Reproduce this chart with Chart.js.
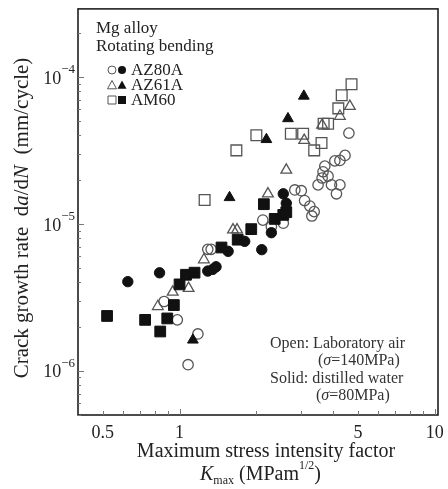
<!DOCTYPE html>
<html lang="en">
<head>
    <meta charset="UTF-8">
    <title>Crack growth rate vs Kmax</title>
    <script src="https://cdn.jsdelivr.net/npm/chart.js"></script>
    <style>
        html, body { margin: 0; padding: 0; background: #fff; }
        #chart { display: block; }
    </style>
</head>
<body>
    <canvas id="chart" width="448" height="489"></canvas>

    <script>
        // Kmax (MPa m^1/2) and da/dN (mm/cycle)
        const az80aWaterK    = [0.627, 0.835, 1.29, 1.35, 1.39, 1.55, 1.80, 2.10, 2.29, 2.55, 2.62];
        const az80aWaterRate = [4.04e-6, 4.64e-6, 4.77e-6, 4.9e-6, 5.1e-6, 6.5e-6, 7.6e-6, 6.67e-6, 8.7e-6, 1.6e-5, 1.38e-5];

        const az61aWaterK    = [1.128, 1.57, 2.19, 2.66, 3.07];
        const az61aWaterRate = [1.62e-6, 1.51e-5, 3.75e-5, 5.2e-5, 7.4e-5];

        const am60WaterK    = [0.52, 0.733, 0.84, 0.895, 0.95, 1.0, 1.06, 1.145, 1.46, 1.69, 1.91, 2.14, 2.36, 2.55, 2.62];
        const am60WaterRate = [2.36e-6, 2.22e-6, 1.85e-6, 2.27e-6, 2.8e-6, 3.87e-6, 4.5e-6, 4.65e-6, 6.9e-6, 7.8e-6, 9.2e-6, 1.36e-5, 1.08e-5, 1.15e-5, 1.2e-5];

        const az80aAirK    = [0.87, 0.98, 1.18, 1.08, 1.29, 1.33, 2.12, 2.29, 2.55, 2.83, 3.0, 3.09, 3.24, 3.37, 3.30, 3.49, 3.62, 3.82, 3.94, 4.25, 4.12, 3.65, 3.71, 4.06, 4.25, 4.45, 4.61];
        const az80aAirRate = [2.96e-6, 2.22e-6, 1.78e-6, 1.1e-6, 6.7e-6, 6.7e-6, 1.06e-5, 9.6e-6, 1.01e-5, 1.7e-5, 1.68e-5, 1.44e-5, 1.32e-5, 1.21e-5, 1.13e-5, 1.84e-5, 2.05e-5, 2.11e-5, 1.84e-5, 1.84e-5, 1.6e-5, 2.26e-5, 2.47e-5, 2.68e-5, 2.7e-5, 2.92e-5, 4.14e-5];

        const az61aAirK    = [0.822, 0.94, 1.085, 1.246, 1.62, 1.68, 2.22, 2.62, 3.08, 3.62, 4.25, 4.65];
        const az61aAirRate = [2.74e-6, 3.43e-6, 3.64e-6, 5.7e-6, 9.1e-6, 9.1e-6, 1.6e-5, 2.32e-5, 3.7e-5, 4.7e-5, 5.4e-5, 6.3e-5];

        const am60AirK    = [1.254, 1.67, 2.0, 2.73, 3.05, 3.37, 3.6, 3.67, 3.82, 4.19, 4.32, 4.72];
        const am60AirRate = [1.45e-5, 3.16e-5, 4.0e-5, 4.1e-5, 4.1e-5, 3.16e-5, 3.55e-5, 4.8e-5, 4.8e-5, 6.1e-5, 7.5e-5, 8.9e-5];

        // axis ticks
        const xLabelValues = [0.5, 1, 5, 10];
        const xMinorTicks = [0.5, 0.6, 0.7, 0.8, 0.9, 2, 3, 4, 5, 6, 7, 8, 9];
        const xMajorTicks = [1, 10];
        const yDecades = [-6, -5, -4];

        const SERIF = '"Liberation Serif", "Times New Roman", serif';
        const OPEN_COLOR = '#555';
        const SOLID_COLOR = '#111';

        function pairs(xs, ys) {
            return xs.map((x, i) => ({ x: x, y: ys[i] }));
        }

        function series(label, xs, ys, style, filled) {
            const isRect = style === 'rect';
            const isTri = style === 'triangle';
            return {
                label: label,
                data: pairs(xs, ys),
                pointStyle: style,
                pointRadius: isRect ? 7.6 : (isTri ? 6.2 : 5.2),
                pointBorderWidth: filled ? 1 : 1.3,
                pointBorderColor: filled ? SOLID_COLOR : OPEN_COLOR,
                pointBackgroundColor: filled ? SOLID_COLOR : 'rgba(255,255,255,0)',
                showLine: false
            };
        }

        // helper: draw a run of text pieces with different fonts/offsets
        function drawRuns(ctx, runs, x, y) {
            let cx = x;
            runs.forEach(r => {
                ctx.font = r.font;
                ctx.fillText(r.text, cx, y + (r.dy || 0));
                cx += ctx.measureText(r.text).width;
            });
            return cx;
        }

        function runsWidth(ctx, runs) {
            let w = 0;
            runs.forEach(r => { ctx.font = r.font; w += ctx.measureText(r.text).width; });
            return w;
        }

        function legendMark(ctx, style, filled, x, y) {
            ctx.save();
            ctx.lineWidth = 1;
            ctx.strokeStyle = filled ? SOLID_COLOR : OPEN_COLOR;
            ctx.fillStyle = SOLID_COLOR;
            ctx.beginPath();
            if (style === 'circle') {
                ctx.arc(x, y, 4, 0, Math.PI * 2);
            } else if (style === 'triangle') {
                ctx.moveTo(x, y - 4.5);
                ctx.lineTo(x + 4.5, y + 3.8);
                ctx.lineTo(x - 4.5, y + 3.8);
                ctx.closePath();
            } else {
                ctx.rect(x - 4, y - 4, 8, 8);
            }
            if (filled) ctx.fill(); else ctx.stroke();
            ctx.restore();
        }

        const decorations = {
            id: 'decorations',
            afterDraw(chart) {
                const ctx = chart.ctx;
                const area = chart.chartArea;
                const xs = chart.scales.x;
                const ys = chart.scales.y;
                ctx.save();

                // frame
                ctx.strokeStyle = '#111';
                ctx.lineWidth = 1.5;
                ctx.strokeRect(area.left, area.top, area.right - area.left, area.bottom - area.top);

                // inward ticks
                ctx.strokeStyle = '#777';
                ctx.lineWidth = 1;
                xMinorTicks.forEach(v => {
                    const px = Math.round(xs.getPixelForValue(v)) + 0.5;
                    ctx.beginPath();
                    ctx.moveTo(px, area.bottom);
                    ctx.lineTo(px, area.bottom - 4);
                    ctx.stroke();
                });
                xMajorTicks.forEach(v => {
                    const px = Math.round(xs.getPixelForValue(v)) + 0.5;
                    ctx.beginPath();
                    ctx.moveTo(px, area.bottom);
                    ctx.lineTo(px, area.bottom - 6);
                    ctx.stroke();
                });
                for (let e = -7; e <= -4; e++) {
                    for (let m = 1; m <= 9; m++) {
                        const v = m * Math.pow(10, e);
                        if (v < ys.min || v > ys.max) continue;
                        const py = Math.round(ys.getPixelForValue(v)) + 0.5;
                        ctx.beginPath();
                        ctx.moveTo(area.left, py);
                        ctx.lineTo(area.left + (m === 1 ? 6 : 3), py);
                        ctx.stroke();
                    }
                }

                ctx.fillStyle = '#222';

                // x tick labels
                ctx.font = '18px ' + SERIF;
                ctx.textAlign = 'center';
                ctx.textBaseline = 'middle';
                xLabelValues.forEach(v => {
                    ctx.fillText(String(v), xs.getPixelForValue(v), area.bottom + 18);
                });

                // y tick labels 10^-n
                ctx.textAlign = 'left';
                yDecades.forEach(e => {
                    const py = ys.getPixelForValue(Math.pow(10, e));
                    const runs = [
                        { text: '10', font: '18px ' + SERIF, dy: 2 },
                        { text: '\u2212' + (-e), font: '13px ' + SERIF, dy: -7 }
                    ];
                    const w = runsWidth(ctx, runs);
                    drawRuns(ctx, runs, area.left - 3 - w, py);
                });

                // x title
                ctx.textAlign = 'center';
                ctx.font = '20px ' + SERIF;
                ctx.fillText('Maximum stress intensity factor', 266, 452);
                ctx.textAlign = 'left';
                const kRuns = [
                    { text: 'K', font: 'italic 20px ' + SERIF, dy: 0 },
                    { text: 'max', font: '12px ' + SERIF, dy: 6 },
                    { text: ' (MPam', font: '20px ' + SERIF, dy: 0 },
                    { text: '1/2', font: '12px ' + SERIF, dy: -9 },
                    { text: ')', font: '20px ' + SERIF, dy: 0 }
                ];
                drawRuns(ctx, kRuns, 200, 475);

                // y title (rotated)
                const yRuns = [
                    { text: 'Crack growth rate  d', font: '21px ' + SERIF },
                    { text: 'a', font: 'italic 21px ' + SERIF },
                    { text: '/d', font: '21px ' + SERIF },
                    { text: 'N', font: 'italic 21px ' + SERIF },
                    { text: '  (mm/cycle)', font: '21px ' + SERIF }
                ];
                ctx.save();
                ctx.translate(22, 218);
                ctx.rotate(-Math.PI / 2);
                const yw = runsWidth(ctx, yRuns);
                drawRuns(ctx, yRuns, -yw / 2, 0);
                ctx.restore();

                // legend block
                ctx.fillStyle = '#222';
                ctx.textBaseline = 'middle';
                ctx.font = '17px ' + SERIF;
                ctx.fillText('Mg alloy', 96, 29);
                ctx.fillText('Rotating bending', 96, 47);
                const rows = [
                    { style: 'circle', name: 'AZ80A', y: 70 },
                    { style: 'triangle', name: 'AZ61A', y: 85 },
                    { style: 'rect', name: 'AM60', y: 100 }
                ];
                rows.forEach(r => {
                    legendMark(ctx, r.style, false, 112, r.y);
                    legendMark(ctx, r.style, true, 122, r.y);
                    ctx.fillStyle = '#222';
                    ctx.font = '17px ' + SERIF;
                    ctx.fillText(r.name, 131, r.y + 1);
                });

                // condition note
                ctx.fillStyle = '#333';
                ctx.font = '16px ' + SERIF;
                ctx.fillText('Open: Laboratory air', 270, 344);
                ctx.fillText('Solid: distilled water', 270, 379);
                drawRuns(ctx, [
                    { text: '(', font: '16px ' + SERIF },
                    { text: '\u03c3', font: 'italic 16px ' + SERIF },
                    { text: '=140MPa)', font: '16px ' + SERIF }
                ], 318, 361);
                drawRuns(ctx, [
                    { text: '(', font: '16px ' + SERIF },
                    { text: '\u03c3', font: 'italic 16px ' + SERIF },
                    { text: '=80MPa)', font: '16px ' + SERIF }
                ], 316, 396);

                ctx.restore();
            }
        };

        const chart = new Chart(document.getElementById('chart'), {
            type: 'scatter',
            data: {
                datasets: [
                    series('AZ80A water', az80aWaterK, az80aWaterRate, 'circle', true),
                    series('AZ61A water', az61aWaterK, az61aWaterRate, 'triangle', true),
                    series('AM60 water', am60WaterK, am60WaterRate, 'rect', true),
                    series('AZ80A air', az80aAirK, az80aAirRate, 'circle', false),
                    series('AZ61A air', az61aAirK, az61aAirRate, 'triangle', false),
                    series('AM60 air', am60AirK, am60AirRate, 'rect', false)
                ]
            },
            options: {
                responsive: false,
                animation: false,
                devicePixelRatio: 1,
                layout: { padding: { left: 78, top: 7, right: 10, bottom: 74 } },
                plugins: {
                    legend: { display: false },
                    tooltip: { enabled: false }
                },
                scales: {
                    x: { type: 'logarithmic', min: 0.4, max: 10.3, display: false },
                    y: { type: 'logarithmic', min: 5e-7, max: 2.9e-4, display: false }
                }
            },
            plugins: [decorations]
        });
    </script>
</body>
</html>
